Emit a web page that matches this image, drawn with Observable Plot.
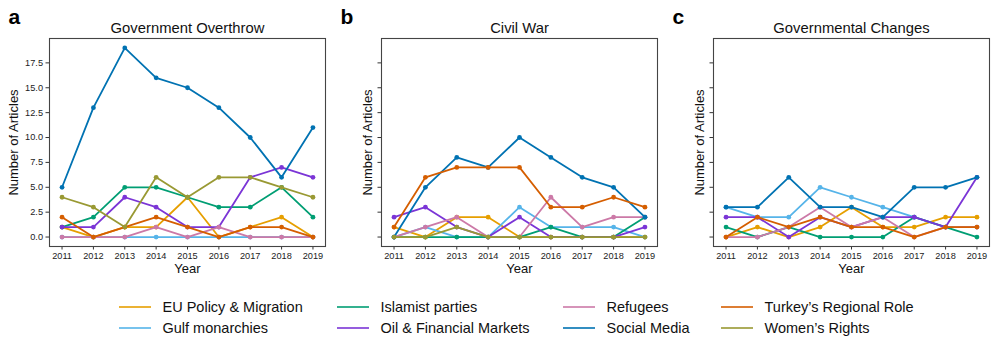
<!DOCTYPE html>
<html>
<head>
<meta charset="utf-8">
<script src="https://cdn.jsdelivr.net/npm/d3@7"></script>
<script src="https://cdn.jsdelivr.net/npm/@observablehq/plot@0.6"></script>
<style>
  body { margin: 0; background: #fff; font-family: "Liberation Sans", Arial, sans-serif; }
  #root { position: relative; width: 997px; height: 349px; overflow: hidden; background: #fff; }
  .leg { position: absolute; display: flex; align-items: center; height: 20px; font-size: 14.5px; color: #111; white-space: nowrap; }
  .leg svg { margin-right: 11.5px; }
</style>
</head>
<body>
<div id="root"></div>
<script>
// ---------- data ----------
const years = [2011, 2012, 2013, 2014, 2015, 2016, 2017, 2018, 2019];
const topics = ["EU Policy & Migration", "Gulf monarchies", "Islamist parties", "Oil & Financial Markets",
                "Refugees", "Social Media", "Turkey\u2019s Regional Role", "Women\u2019s Rights"];
const topicColors = ["#E69F00", "#56B4E9", "#009E73", "#7B35D6", "#CC79A7", "#0072B2", "#D55E00", "#999933"];
const yTicks = [0, 2.5, 5, 7.5, 10, 12.5, 15, 17.5];
const panelLetters = ["a", "b", "c"];
const panelTitles = ["Government Overthrow", "Civil War", "Governmental Changes"];

// (a) Government Overthrow
const overthrowEU       = [1, 0, 1, 1, 4, 0, 1, 2, 0];
const overthrowGulf     = [0, 0, 0, 0, 0, 0, 0, 0, 0];
const overthrowIslamist = [1, 2, 5, 5, 4, 3, 3, 5, 2];
const overthrowOil      = [1, 1, 4, 3, 1, 1, 6, 7, 6];
const overthrowRefugees = [0, 0, 0, 1, 0, 1, 0, 0, 0];
const overthrowSocial   = [5, 13, 19, 16, 15, 13, 10, 6, 11];
const overthrowTurkey   = [2, 0, 1, 2, 1, 0, 1, 1, 0];
const overthrowWomen    = [4, 3, 1, 6, 4, 6, 6, 5, 4];

// (b) Civil War
const civilEU       = [1, 0, 2, 2, 0, 0, 0, 0, 0];
const civilGulf     = [0, 1, 0, 0, 3, 1, 1, 1, 0];
const civilIslamist = [0, 0, 0, 0, 0, 1, 0, 0, 2];
const civilOil      = [2, 3, 1, 0, 2, 0, 0, 0, 1];
const civilRefugees = [0, 1, 2, 0, 0, 4, 1, 2, 2];
const civilSocial   = [0, 5, 8, 7, 10, 8, 6, 5, 2];
const civilTurkey   = [1, 6, 7, 7, 7, 3, 3, 4, 3];
const civilWomen    = [0, 0, 1, 0, 0, 0, 0, 0, 0];

// (c) Governmental Changes
const changesEU       = [0, 1, 0, 1, 3, 1, 1, 2, 2];
const changesGulf     = [3, 2, 2, 5, 4, 3, 2, 1, 1];
const changesIslamist = [1, 0, 1, 0, 0, 0, 2, 1, 0];
const changesOil      = [2, 2, 0, 2, 1, 2, 2, 1, 6];
const changesRefugees = [0, 0, 1, 3, 1, 2, 0, 1, 1];
const changesSocial   = [3, 3, 6, 3, 3, 2, 5, 5, 6];
const changesTurkey   = [0, 2, 1, 2, 1, 1, 0, 1, 1];
const changesWomen    = null;

const panelSeries = [
  [overthrowEU, overthrowGulf, overthrowIslamist, overthrowOil, overthrowRefugees, overthrowSocial, overthrowTurkey, overthrowWomen],
  [civilEU, civilGulf, civilIslamist, civilOil, civilRefugees, civilSocial, civilTurkey, civilWomen],
  [changesEU, changesGulf, changesIslamist, changesOil, changesRefugees, changesSocial, changesTurkey, changesWomen]
];

// ---------- drawing ----------
const root = document.getElementById("root");
const FONT = "'Liberation Sans', Arial, sans-serif";

function makePanel(i) {
  const marks = [];
  panelSeries[i].forEach((vals, k) => {
    if (!vals) return;
    const rows = years.map((yr, j) => ({topic: topics[k], year: yr, value: vals[j]}));
    marks.push(
      Plot.line(rows, {x: "year", y: "value", stroke: "topic", strokeWidth: 1.8}),
      Plot.dot(rows, {x: "year", y: "value", fill: "topic", r: 2.4})
    );
  });
  const first = i === 0;
  return Plot.plot({
    width: 332, height: 285,
    marginLeft: 49, marginRight: 7, marginTop: 38, marginBottom: 39,
    style: {fontFamily: FONT, fontSize: "9.2px", color: "#222", background: "transparent", overflow: "visible"},
    x: {domain: [2010.6, 2019.4]},
    y: {domain: [-0.95, 19.95]},
    color: {domain: topics, range: topicColors},
    marks: [
      Plot.axisX({ticks: years, tickFormat: d => String(d), tickSize: 3.5, tickPadding: 2.5, label: null, stroke: "#333"}),
      Plot.axisY({ticks: yTicks, tickFormat: first ? d3.format(".1f") : () => "", tickSize: 3.5, tickPadding: 3, label: null, stroke: "#333"}),
      ...marks,
      Plot.frame({stroke: "#444", strokeWidth: 1.1}),
      Plot.text([panelTitles[i]], {frameAnchor: "top", lineAnchor: "middle", textAnchor: "middle", dy: -10, fontSize: 14.8, fill: "#111"}),
      Plot.text([panelLetters[i]], {frameAnchor: "top-left", lineAnchor: "middle", textAnchor: "start", dx: -41, dy: -21, fontSize: 21, fontWeight: "bold", fill: "#000"}),
      Plot.text(["Year"], {frameAnchor: "bottom", lineAnchor: "middle", textAnchor: "middle", dy: 22, fontSize: 13, fill: "#111"}),
      Plot.text(["Number of Articles"], {frameAnchor: "left", lineAnchor: "middle", textAnchor: "middle", dx: first ? -36 : -14, rotate: -90, fontSize: 13, fill: "#111"})
    ]
  });
}

[0, 1, 2].forEach(i => {
  const svg = makePanel(i);
  svg.style.position = "absolute";
  svg.style.top = "0px";
  svg.style.left = (i * 332) + "px";
  root.appendChild(svg);
});

// legend
const legendColX = [119, 337, 563, 721];
const legendRowY = [306.7, 327.7];
topics.forEach((t, k) => {
  const col = Math.floor(k / 2), row = k % 2;
  const div = document.createElement("div");
  div.className = "leg";
  div.style.left = legendColX[col] + "px";
  div.style.top = (legendRowY[row] - 10) + "px";
  div.innerHTML = `<svg width="32" height="20"><line x1="0" x2="32" y1="10" y2="10" stroke="${topicColors[k]}" stroke-width="1.6"/></svg><span>${t.replace("&", "&amp;")}</span>`;
  root.appendChild(div);
});
</script>
</body>
</html>
